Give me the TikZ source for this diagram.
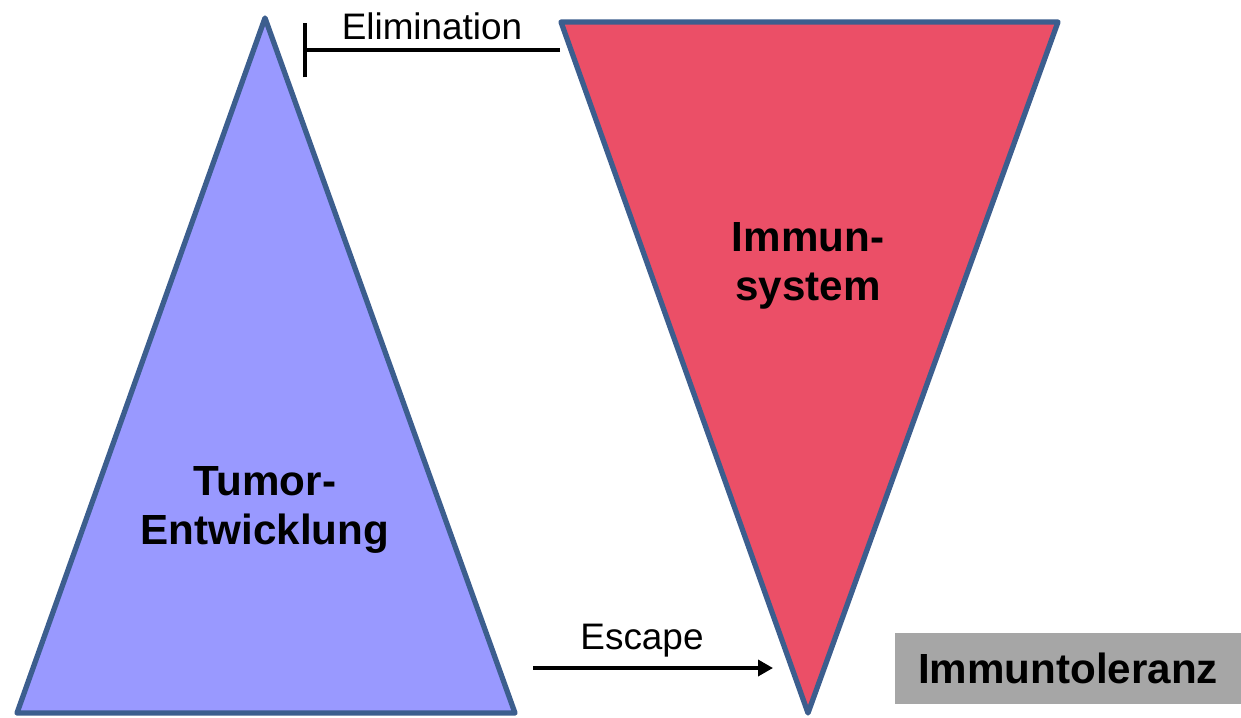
\documentclass[tikz,border=0pt]{standalone}
\usepackage{fontspec}
\setmainfont{Liberation Sans}
\usetikzlibrary{arrows.meta,positioning}
\definecolor{tumorblue}{HTML}{9999FF}
\definecolor{immunred}{HTML}{EB4F67}
\definecolor{edgeblue}{HTML}{3C5E8E}
\definecolor{tolgray}{HTML}{A6A6A6}
\tikzset{
 tri/.style={draw=edgeblue,line width=3pt,line join=round},
 boldtext/.style={align=center,font=\fontsize{24}{28.3}\selectfont\bfseries},
 thintext/.style={font=\fontsize{21}{25}\selectfont},
 link/.style={line width=2pt}
}

\begin{document}
\begin{tikzpicture}[x=0.02cm,y=-0.02cm]
 \useasboundingbox (0,0) rectangle (1241,717);
 % triangles
 \coordinate (t0) at (265,18);
 \coordinate (t1) at (17,713);
 \coordinate (t2) at (515,713);
 \coordinate (i0) at (561,22);
 \coordinate (i1) at (1058,22);
 \coordinate (i2) at (808,713);
 \draw[tri,fill=tumorblue] (t0) -- (t1) -- (t2) -- cycle;
 \draw[tri,fill=immunred] (i0) -- (i1) -- (i2) -- cycle;

 % labels
 \node (tumor) at (265,510) [boldtext] {Tumor-\\Entwicklung};
 \node (immun) at (808,266) [boldtext] {Immun-\\system};
 \node (toleranz) at (1068,668.5) [fill=tolgray,minimum width=6.92cm,minimum height=1.42cm,font=\fontsize{24}{28}\selectfont\bfseries] {Immuntoleranz};

 % connectors
 \coordinate (elimfrom) at (560,50);
 \coordinate (elimto) at (303,50);
 \coordinate (escfrom) at (533,668);
 \coordinate (escto) at (773,668);
 \draw[link,-{Bar[width=1.1cm]}] (elimfrom) -- (elimto);
 \draw[link,-{Triangle[length=0.3cm,width=0.32cm]}] (escfrom) -- (escto);
 \node (elim) at (432,26) [thintext] {Elimination};
 \node (esc) at (642,641) [thintext] {Escape};
\end{tikzpicture}
\end{document}
